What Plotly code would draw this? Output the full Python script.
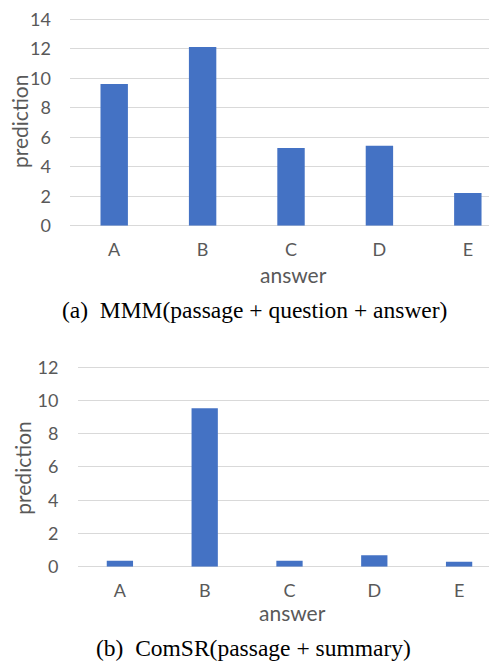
import plotly.graph_objects as go

categories = ["A", "B", "C", "D", "E"]
mmm_values = [9.61, 12.12, 5.27, 5.43, 2.22]
comsr_values = [0.36, 9.53, 0.36, 0.69, 0.30]
top_yticks = [0, 2, 4, 6, 8, 10, 12, 14]
bottom_yticks = [0, 2, 4, 6, 8, 10, 12]
caption_a = "(a)  MMM(passage + question + answer)"
caption_b = "(b)  ComSR(passage + summary)"

BAR = "#4472C4"
GRID = "#D9D9D9"
TXT = "#595959"
FONT = "Lato"
OFF = 8  # page body margin
W = 497 - OFF
H = 661 - OFF


def px(x):
    return (x - OFF) / W


def py(y):
    return 1 - (y - OFF) / H


# top chart: 0 at y=225.7, 14 at y=19.3 -> 14.74 px per unit; pad range slightly
TOP_UNIT = (225.7 - 19.3) / 14
TOP_MAX = 14.15
BOT_UNIT = (566.7 - 367.3) / 12
BOT_MAX = 12.15

fig = go.Figure()
fig.add_trace(go.Bar(x=categories, y=mmm_values, marker_color=BAR, width=0.31,
                     xaxis="x", yaxis="y", showlegend=False))
fig.add_trace(go.Bar(x=categories, y=comsr_values, marker_color=BAR, width=0.31,
                     xaxis="x2", yaxis="y2", showlegend=False))

axis_font = dict(family=FONT, size=18, color=TXT)
title_font = dict(family=FONT, size=21, color=TXT)
cap_font = dict(family="Liberation Serif", size=23.5, color="black")

fig.update_layout(
    template="none",
    width=W, height=H,
    margin=dict(l=0, r=0, t=0, b=0, pad=0),
    paper_bgcolor="white", plot_bgcolor="white",
    xaxis=dict(domain=[px(70), 1], range=[-0.5, 4.33], type="category",
               showgrid=False, showline=False, zeroline=False, ticks="", tickfont=axis_font,
               anchor="y", ticklabelstandoff=11, fixedrange=True, automargin=False),
    yaxis=dict(domain=[py(225.7), py(225.7 - TOP_MAX * TOP_UNIT)], range=[0, TOP_MAX],
               tickvals=top_yticks, ticklabeloverflow="allow",
               showgrid=True, gridcolor=GRID, gridwidth=1, zeroline=True,
               zerolinecolor=GRID, zerolinewidth=1, ticks="", tickfont=axis_font,
               anchor="x", ticklabelstandoff=18, fixedrange=True, automargin=False),
    xaxis2=dict(domain=[px(77.5), 1], range=[-0.5, 4.447], type="category",
                showgrid=False, showline=False, zeroline=False, ticks="", tickfont=axis_font,
                anchor="y2", ticklabelstandoff=11, fixedrange=True, automargin=False),
    yaxis2=dict(domain=[py(566.7), py(566.7 - BOT_MAX * BOT_UNIT)], range=[0, BOT_MAX],
                tickvals=bottom_yticks, ticklabeloverflow="allow",
                showgrid=True, gridcolor=GRID, gridwidth=1, zeroline=True,
                zerolinecolor=GRID, zerolinewidth=1, ticks="", tickfont=axis_font,
                anchor="x2", ticklabelstandoff=18, fixedrange=True, automargin=False),
    annotations=[
        dict(text="answer", x=px(293), y=py(274), font=title_font),
        dict(text="prediction", x=px(20), y=py(122), textangle=-90, font=title_font),
        dict(text=caption_a, x=px(254), y=py(310), font=cap_font),
        dict(text="answer", x=px(292), y=py(612), font=title_font),
        dict(text="prediction", x=px(21.7), y=py(468), textangle=-90, font=title_font),
        dict(text=caption_b, x=px(253), y=py(648), font=cap_font),
    ],
)
fig.update_annotations(xref="paper", yref="paper", showarrow=False,
                       xanchor="center", yanchor="middle")

fig.write_html("out.html")
